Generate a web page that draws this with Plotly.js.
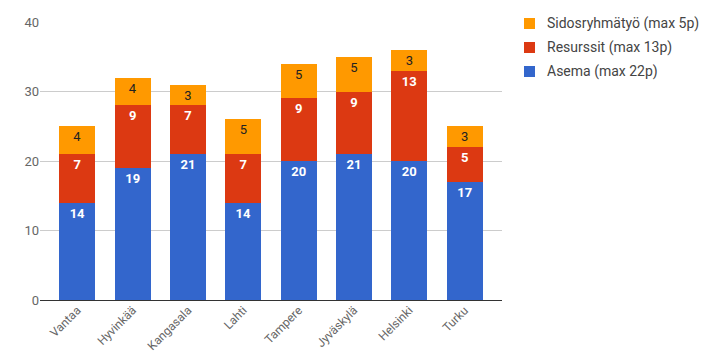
<!DOCTYPE html>
<html><head><meta charset="utf-8">
<script src="https://cdn.plot.ly/plotly-3.0.1.min.js"></script>
<style>html,body{margin:0;padding:0;background:#fff;}#chart{width:707px;height:361px;}</style>
</head><body><div id="chart"></div>
<script>
const categories = ["Vantaa","Hyvinkää","Kangasala","Lahti","Tampere","Jyväskylä","Helsinki","Turku"];
const asema = [14,19,21,14,20,21,20,17];
const resurssit = [7,9,7,7,9,9,13,5];
const sidos = [4,4,3,5,5,5,3,3];
const seriesNames = ["Asema (max 22p)","Resurssit (max 13p)","Sidosryhmätyö (max 5p)"];
const seriesColors = ['#3366cc','#dc3912','#ff9900'];
const yTicks = [0,10,20,30,40];

const W = 707, H = 361, ML = 40, MR = 205, MT = 22, MB = 61;
const PW = W - ML - MR, PH = H - MT - MB;
const px2x = p => (p - ML) / PW;
const py2y = p => (H - MB - p) / PH;

function mk(vals, name, color, txtColor, bold){
  return {
    type:'bar', x:categories, y:vals, name:name,
    marker:{color:color},
    text:vals.map(String), textposition:'inside', insidetextanchor:'end', textangle:0,
    constraintext:'none',
    textfont:{family:'Roboto', size:13, color:txtColor, weight: bold?'bold':'normal'},
    hoverinfo:'none', showlegend:false
  };
}
const data = [
  mk(asema, seriesNames[0], seriesColors[0], '#ffffff', true),
  mk(resurssit, seriesNames[1], seriesColors[1], '#ffffff', true),
  mk(sidos, seriesNames[2], seriesColors[2], '#222222', false)
];

// legend (top-down: reversed order)
const shapes = [], annotations = [];
for (let i = 0; i < 3; i++) {
  const s = 2 - i;
  const cy = 23.5 + 24 * i;
  shapes.push({type:'rect', xref:'paper', yref:'paper',
    x0:px2x(524), x1:px2x(535), y0:py2y(cy + 5.5), y1:py2y(cy - 5.5),
    fillcolor:seriesColors[s], line:{width:0}});
  annotations.push({xref:'paper', yref:'paper', x:px2x(545), y:py2y(cy), xanchor:'left', yanchor:'middle',
    text:seriesNames[s], showarrow:false, font:{family:'Roboto', size:14, color:'#444'}});
}

const layout = {
  width:W, height:H,
  margin:{l:ML, r:MR, t:MT, b:MB},
  barmode:'stack', bargap:0.35,
  paper_bgcolor:'#fff', plot_bgcolor:'#fff',
  font:{family:'Roboto', size:12, color:'#444'},
  xaxis:{range:[-0.675,7.675], tickangle:-45, tickfont:{family:'Roboto', size:12, color:'#666'}, showgrid:false, zeroline:false, showline:false, ticks:'', fixedrange:true},
  yaxis:{range:[0,40], tickvals:yTicks, ticktext:yTicks.map(String), tickfont:{family:'Roboto', size:13, color:'#666'}, gridcolor:'#cccccc', zeroline:true, zerolinecolor:'#333', zerolinewidth:1, ticks:'', ticklen:0, fixedrange:true},
  showlegend:false,
  shapes:shapes, annotations:annotations
};
Plotly.newPlot('chart', data, layout, {displayModeBar:false, staticPlot:true});
</script></body></html>
